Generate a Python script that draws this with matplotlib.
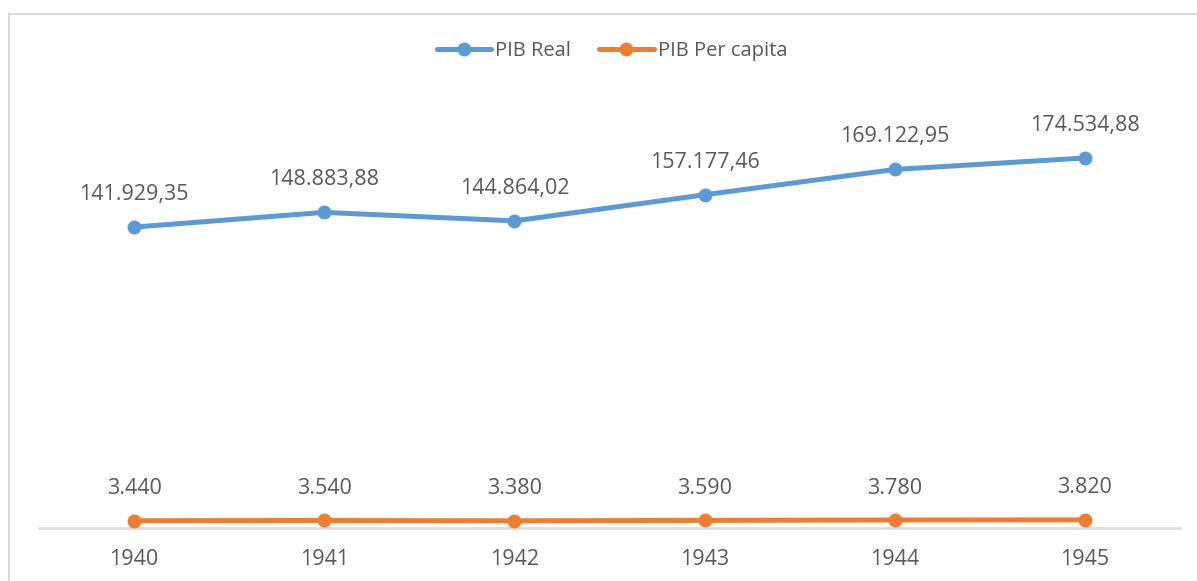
import matplotlib.pyplot as plt
from matplotlib.lines import Line2D

# data
years = ["1940", "1941", "1942", "1943", "1944", "1945"]
pib_real = [141929.35, 148883.88, 144864.02, 157177.46, 169122.95, 174534.88]
pib_per_capita = [3440, 3540, 3380, 3590, 3780, 3820]

BLUE = "#5b9bd5"
ORANGE = "#ed7d31"
TEXT = "#595959"
GRID = "#d9d9d9"


def fmt_real(v):
    s = f"{v:,.2f}"
    return s.replace(",", "X").replace(".", ",").replace("X", ".")


def fmt_int(v):
    return f"{v:,.0f}".replace(",", ".")


plt.rcParams["font.family"] = ["Open Sans", "DejaVu Sans"]

fig = plt.figure(figsize=(11.97, 5.81), dpi=100)
ax = fig.add_axes([39 / 1197, 53 / 581, 1141 / 1197, 424 / 581])

x = list(range(len(years)))
ax.plot(x, pib_real, color=BLUE, lw=3.6, marker="o", ms=9,
        solid_capstyle="round", label="PIB Real")
ax.plot(x, pib_per_capita, color=ORANGE, lw=3.6, marker="o", ms=9,
        solid_capstyle="round", label="PIB Per capita")

for xi, v in zip(x, pib_real):
    ax.annotate(fmt_real(v), (xi, v), xytext=(0, 23.5), textcoords="offset points",
                ha="center", va="center", fontsize=15.5, color=TEXT)
for xi, v in zip(x, pib_per_capita):
    ax.annotate(fmt_int(v), (xi, v), xytext=(0, 23), textcoords="offset points",
                ha="center", va="center", fontsize=15.5, color=TEXT)

ax.set_xlim(-0.5, len(years) - 0.5)
ax.set_ylim(0, 200000)
ax.set_xticks(x)
ax.set_xticklabels(years, fontsize=15.5, color=TEXT)
ax.set_yticks([])
ax.tick_params(axis="x", length=0, pad=15)

for s in ["top", "right", "left"]:
    ax.spines[s].set_visible(False)
ax.spines["bottom"].set_color(GRID)
ax.spines["bottom"].set_linewidth(1.8)
ax.spines["bottom"].set_zorder(0)

leg = fig.legend(loc="center", bbox_to_anchor=(612 / 1197, 1 - 51 / 581), ncol=2,
                 frameon=False, fontsize=14.5, handlelength=2.7, columnspacing=1.4,
                 handletextpad=0.2)
for t in leg.get_texts():
    t.set_color(TEXT)

# chart area border
fig.add_artist(Line2D([9 / 1197, 1.0], [1 - 14 / 581, 1 - 14 / 581],
                      transform=fig.transFigure, color=GRID, lw=1.5))
fig.add_artist(Line2D([9 / 1197, 9 / 1197], [0, 1 - 14 / 581],
                      transform=fig.transFigure, color=GRID, lw=1.5))

fig.savefig("out.png", dpi=100)
